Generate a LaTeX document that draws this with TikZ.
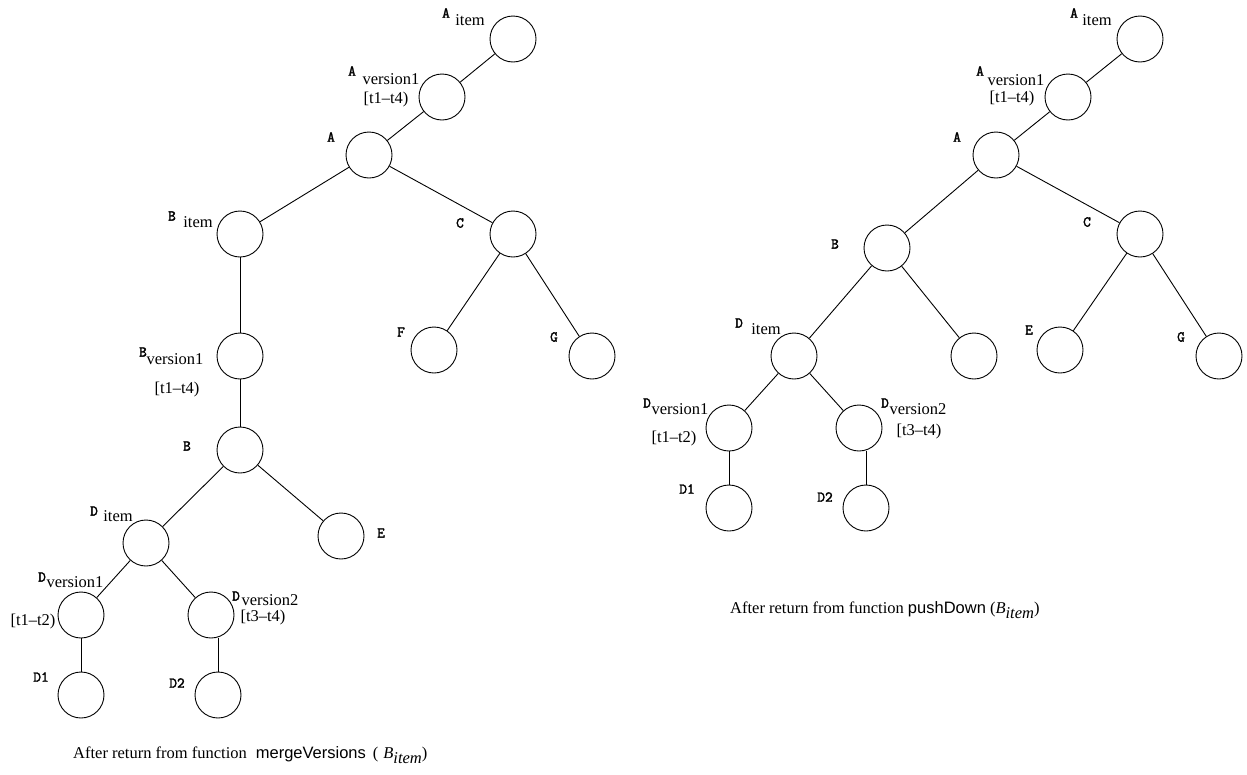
\documentclass[tikz,border=0pt]{standalone}
\usepackage{fontspec}
\setmainfont{Liberation Serif}
\newfontfamily\sansfnt{Liberation Sans}
\newfontfamily\keyfnt{Latin Modern Mono}[FakeBold=2.2]
\tikzset{
  vtx/.style={circle,draw,line width=0.9pt,minimum size=46pt,inner sep=0pt},
  edge/.style={line width=0.9pt},
  key/.style={inner sep=0pt,font=\keyfnt\fontsize{15}{15}\selectfont},
  sub/.style={inner sep=0pt,font=\fontsize{16.5}{18}\selectfont},
  caption/.style={inner sep=0pt,anchor=base west,font=\fontsize{16.5}{18}\selectfont},
}
\begin{document}
\begin{tikzpicture}[x=1pt,y=-1pt]
\useasboundingbox (0,0) rectangle (1247,774);

% ---------------- tree after mergeVersions ----------------
\node[vtx] (lAi)  at (513,39)  {};
\node[vtx] (lAv)  at (442,97)  {};
\node[vtx] (lA)   at (369,155) {};
\node[vtx] (lBi)  at (240,234) {};
\node[vtx] (lC)   at (513,234) {};
\node[vtx] (lF)   at (434,350) {};
\node[vtx] (lG)   at (592,356) {};
\node[vtx] (lBv)  at (240,356) {};
\node[vtx] (lB)   at (240,450) {};
\node[vtx] (lE)   at (341,536) {};
\node[vtx] (lDi)  at (146,543) {};
\node[vtx] (lDv1) at (81,615)  {};
\node[vtx] (lDv2) at (211,615) {};
\node[vtx] (lD1)  at (81,695)  {};
\node[vtx] (lD2)  at (218,695) {};

\draw[edge] (lAi) -- (lAv);
\draw[edge] (lAv) -- (lA);
\draw[edge] (lA) -- (lBi);
\draw[edge] (lA) -- (lC);
\draw[edge] (lBi) -- (lBv);
\draw[edge] (lBv) -- (lB);
\draw[edge] (lC) -- (lF);
\draw[edge] (lC) -- (lG);
\draw[edge] (lB) -- (lDi);
\draw[edge] (lB) -- (lE);
\draw[edge] (lDi) -- (lDv1);
\draw[edge] (lDi) -- (lDv2);
\draw[edge] (lDv1) -- (lD1);
\draw[edge] (lD2.north) -- (lD2 |- lDv2.south);

\node[key] (klAi) at (446,13) {A};   \node[sub] (slAi) at (470,20) {item};
\node[key] (klAv) at (352,71) {A};   \node[sub] (slAv) at (391,79) {version1};
\node[sub] (tlAv) at (386,100) {[t1\textendash t4)};
\node[key] (klA)  at (331,137) {A};
\node[key] (klBi) at (172,216) {B};  \node[sub] (slBi) at (198,222) {item};
\node[key] (klC)  at (460,223) {C};
\node[key] (klF)  at (401,332) {F};
\node[key] (klG)  at (554,337) {G};
\node[key] (klBv) at (143,352) {B};  \node[sub] (slBv) at (175,359) {version1};
\node[sub] (tlBv) at (177,390) {[t1\textendash t4)};
\node[key] (klB)  at (187,446) {B};
\node[key] (klE)  at (381,533) {E};
\node[key] (klDi) at (94,511) {D};   \node[sub] (slDi) at (118,516) {item};
\node[key] (klDv1) at (42,577) {D};  \node[sub] (slDv1) at (75,582) {version1};
\node[sub] (tlDv1) at (33,622) {[t1\textendash t2)};
\node[key] (klDv2) at (236,596) {D}; \node[sub] (slDv2) at (270,600) {version2};
\node[sub] (tlDv2) at (263,618) {[t3\textendash t4)};
\node[key] (klD1) at (41,677) {D1};
\node[key] (klD2) at (177,683) {D2};

\node[caption] (capL) at (73,758) {After return from function\hspace{9pt}{\sansfnt mergeVersions}\hspace{7pt}(\hspace{5pt}{\itshape B}\raisebox{-5pt}{\itshape item})};

% ---------------- tree after pushDown ----------------
\node[vtx] (rAi)  at (1140,39)  {};
\node[vtx] (rAv)  at (1068,97)  {};
\node[vtx] (rA)   at (996,155)  {};
\node[vtx] (rB)   at (887,248)  {};
\node[vtx] (rC)   at (1140,234) {};
\node[vtx] (rBr)  at (974,356)  {};
\node[vtx] (rE)   at (1060,350) {};
\node[vtx] (rG)   at (1219,356) {};
\node[vtx] (rDi)  at (794,356)  {};
\node[vtx] (rDv1) at (729,428)  {};
\node[vtx] (rDv2) at (859,428)  {};
\node[vtx] (rD1)  at (729,508)  {};
\node[vtx] (rD2)  at (866,508)  {};

\draw[edge] (rAi) -- (rAv);
\draw[edge] (rAv) -- (rA);
\draw[edge] (rA) -- (rB);
\draw[edge] (rA) -- (rC);
\draw[edge] (rB) -- (rDi);
\draw[edge] (rB) -- (rBr);
\draw[edge] (rC) -- (rE);
\draw[edge] (rC) -- (rG);
\draw[edge] (rDi) -- (rDv1);
\draw[edge] (rDi) -- (rDv2);
\draw[edge] (rDv1) -- (rD1);
\draw[edge] (rD2.north) -- (rD2 |- rDv2.south);

\node[key] (krAi) at (1074,13) {A};  \node[sub] (srAi) at (1097,20) {item};
\node[key] (krAv) at (980,71) {A};   \node[sub] (srAv) at (1016,80) {version1};
\node[sub] (trAv) at (1012,99) {[t1\textendash t4)};
\node[key] (krA)  at (957,137) {A};
\node[key] (krB)  at (835,244) {B};
\node[key] (krC)  at (1087,222) {C};
\node[key] (krE)  at (1029,330) {E};
\node[key] (krG)  at (1181,337) {G};
\node[key] (krDi) at (739,323) {D};  \node[sub] (srDi) at (766,329) {item};
\node[key] (krDv1) at (647,403) {D}; \node[sub] (srDv1) at (680,409) {version1};
\node[sub] (trDv1) at (674,439) {[t1\textendash t2)};
\node[key] (krDv2) at (885,403) {D}; \node[sub] (srDv2) at (918,409) {version2};
\node[sub] (trDv2) at (919,432) {[t3\textendash t4)};
\node[key] (krD1) at (687,489) {D1};
\node[key] (krD2) at (825,497) {D2};

\node[caption] (capR) at (730,613) {After return from function {\sansfnt pushDown} ({\itshape B}\raisebox{-5pt}{\itshape item})};
\end{tikzpicture}
\end{document}
